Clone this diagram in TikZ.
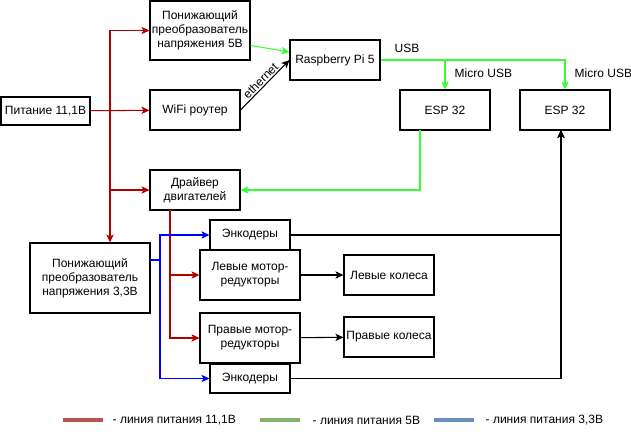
\documentclass[tikz,border=0pt]{standalone}
\usepackage{fontspec}
\setmainfont{Liberation Sans}
\usetikzlibrary{arrows.meta,calc}
\definecolor{pwrred}{HTML}{B20000}
\definecolor{pwrgreen}{HTML}{33FF33}
\definecolor{pwrblue}{HTML}{0000FF}
\definecolor{legred}{HTML}{B85450}
\definecolor{leggreen}{HTML}{82B366}
\definecolor{legblue}{HTML}{6C8EBF}
\tikzset{
  blk/.style={draw, thick, align=center, inner sep=1pt, font=\fontsize{9}{10.5}\selectfont},
  tip/.style={-{Stealth[length=6pt,width=5.5pt,inset=1.5pt]}},
  redln/.style={pwrred, thick, tip},
  grnln/.style={pwrgreen, thick, tip},
  bluln/.style={pwrblue, thick, tip},
  blkln/.style={black, thick, tip},
  lbl/.style={font=\fontsize{9}{10.5}\selectfont}
}
\begin{document}
\begin{tikzpicture}[x=0.75pt,y=-0.75pt]
      \useasboundingbox (0,0) rectangle (631,435);
      \node[blk, minimum width=89*0.75pt, minimum height=28*0.75pt] (pwr) at (45.5,111) {Питание 11,1В};
      \node[blk, minimum width=100*0.75pt, minimum height=59*0.75pt] (dc5) at (200,30.5) {Понижающий\\преобразователь\\напряжения 5В};
      \node[blk, minimum width=90*0.75pt, minimum height=40*0.75pt] (wifi) at (195,110) {WiFi роутер};
      \node[blk, minimum width=90*0.75pt, minimum height=40*0.75pt] (drv) at (195,190) {Драйвер\\двигателей};
      \node[blk, minimum width=90*0.75pt, minimum height=40*0.75pt] (rpi) at (335,60) {Raspberry Pi 5};
      \node[blk, minimum width=90*0.75pt, minimum height=40*0.75pt] (esp1) at (445,110) {ESP 32};
      \node[blk, minimum width=90*0.75pt, minimum height=40*0.75pt] (esp2) at (565,110) {ESP 32};
      \node[blk, minimum width=120*0.75pt, minimum height=70*0.75pt] (dc33) at (90,278) {Понижающий\\преобразователь\\напряжения 3,3В};
      \node[blk, minimum width=80*0.75pt, minimum height=30*0.75pt] (enc1) at (250,235) {Энкодеры};
      \node[blk, minimum width=100*0.75pt, minimum height=50*0.75pt] (motL) at (250,275) {Левые мотор-\\редукторы};
      \node[blk, minimum width=100*0.75pt, minimum height=50*0.75pt] (motR) at (250,338) {Правые мотор-\\редукторы};
      \node[blk, minimum width=80*0.75pt, minimum height=29*0.75pt] (enc2) at (250,378.5) {Энкодеры};
      \node[blk, minimum width=90*0.75pt, minimum height=40*0.75pt] (wheelL) at (389,275) {Левые колеса};
      \node[blk, minimum width=90*0.75pt, minimum height=40*0.75pt] (wheelR) at (389,337) {Правые колеса};
      % junctions
      \coordinate (rtrunk) at (110,111);
      \coordinate (dtap) at (170,210);
      \coordinate (btap) at (150,260);
      \coordinate (bjoin) at (160,260);
      \coordinate (espin) at (561,130);
      \coordinate (esptap) at (420,130);
      % 11,1V
      \begin{scope}
        \draw[redln] (pwr) -- (wifi);
        \draw[redln] (rtrunk) |- (dc5);
        \draw[redln] (rtrunk) |- (drv);
        \draw[redln] (rtrunk) -- (rtrunk |- dc33.north);
        \draw[redln] (dtap) |- (motL);
        \draw[redln] (dtap) |- (motR);
      \end{scope}
      % 5V and USB
      \begin{scope}
        \draw[grnln] ($(dc5.east)+(0,15)$) -- ($(rpi.west)+(0,-8)$);
        \draw[grnln] (rpi.east) -| (esp1);
        \draw[grnln] (rpi.east) -| (esp2);
        \draw[grnln] (esptap) |- (drv);
      \end{scope}
      % 3,3V
      \begin{scope}
        \draw[bluln] (btap) -- (bjoin) |- (enc1);
        \draw[bluln] (btap) -- (bjoin) |- (enc2);
      \end{scope}
      % signals
      \begin{scope}
        \draw[blkln] (wifi.east) -- node[lbl, midway, above, sloped, inner sep=1pt] {ethernet} (rpi.west);
        \draw[blkln] (enc1) -| (espin);
        \draw[blkln] (enc2) -| (espin);
        \draw[blkln] (motL) -- (wheelL);
        \draw[blkln] (motR) -- (wheelR);
      \end{scope}
      \node[lbl, anchor=west] (usb) at (390,48) {USB};
      \node[lbl, anchor=west] (musb1) at (450,73) {Micro USB};
      \node[lbl, anchor=west] (musb2) at (570,73) {Micro USB};
      % legend
      \draw[legred, line width=3.5pt] (63,420) -- (103,420);
      \draw[leggreen, line width=3.5pt] (260,420) -- (300,420);
      \draw[legblue, line width=3.5pt] (434,420) -- (474,420);
      \node[lbl, anchor=west] (leg1) at (108,420) {- линия питания 11,1В};
      \node[lbl, anchor=west] (leg2) at (308,420) {- линия питания 5В};
      \node[lbl, anchor=west] (leg3) at (481,420) {- линия питания 3,3В};
    \end{tikzpicture}
\end{document}
